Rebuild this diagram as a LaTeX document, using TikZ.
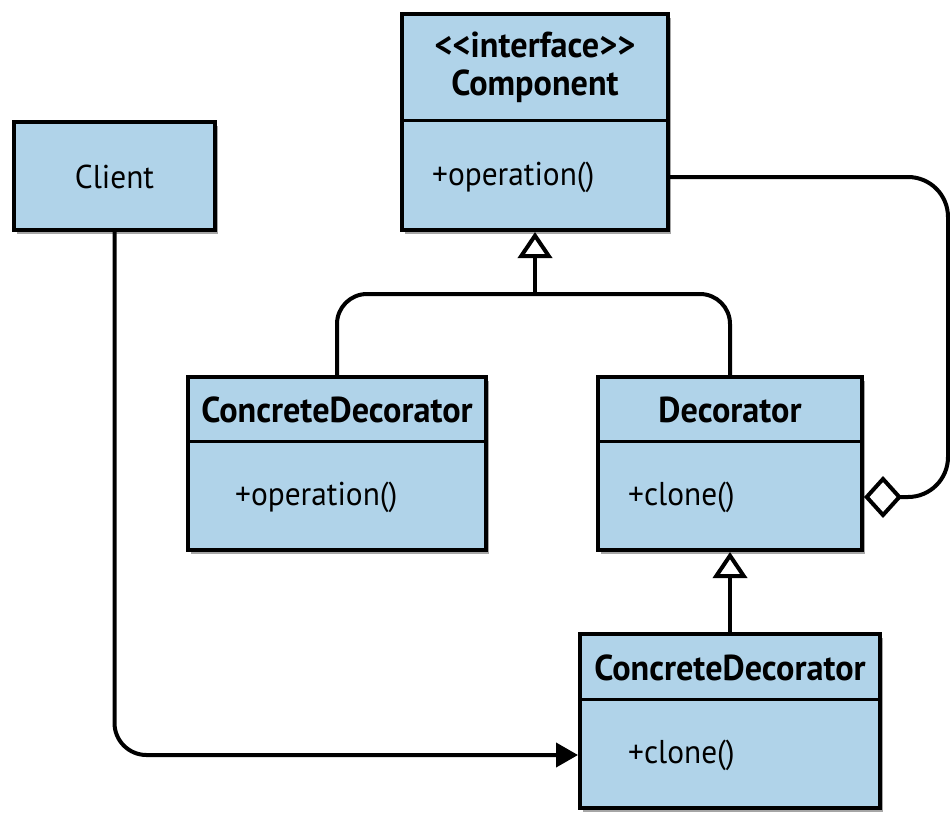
\documentclass[tikz,border=0pt]{standalone}
\usepackage{fontspec}
\setmainfont{PT Sans}[FakeStretch=0.95]
\usetikzlibrary{arrows.meta,shadows,calc}
\definecolor{boxblue}{RGB}{176,211,233}
\begin{document}
\begin{tikzpicture}[x=1pt,y=-1pt,
  box/.style={draw=black, line width=4pt, fill=boxblue, inner sep=0pt,
    drop shadow={shadow xshift=3pt, shadow yshift=-4pt, fill=black, opacity=0.35}},
  txt/.style={inner sep=0pt, font=\fontsize{33}{38}\selectfont},
  ttl/.style={inner sep=0pt, font=\fontsize{36}{38}\selectfont\bfseries, align=center},
  mem/.style={txt, anchor=west},
  conn/.style={line width=4pt, draw=black},
  inh/.style={conn, -{Triangle[open, length=26pt, width=34pt, line width=4pt]}},
  agg/.style={conn, -{Diamond[open, length=38pt, width=42pt, line width=4pt]}},
  assoc/.style={conn, -{Triangle[length=22pt, width=24pt]}},
  divider/.style={line width=3pt}
]
\useasboundingbox (0,0) rectangle (950,836);

% boxes
\node[box, minimum width=266pt, minimum height=216pt] (comp) at (535,122) {};
\node[box, minimum width=201pt, minimum height=108pt] (client) at (114.5,176) {};
\node[box, minimum width=298pt, minimum height=173pt] (cd1) at (337,463.5) {};
\node[box, minimum width=264pt, minimum height=173pt] (dec) at (730,463.5) {};
\node[box, minimum width=300pt, minimum height=174pt] (cd2) at (730,721) {};

% dividers
\draw[divider] ($(comp.north west)+(0,108)$) -- ($(comp.north east)+(0,108)$);
\draw[divider] ($(cd1.north west)+(0,66)$) -- ($(cd1.north east)+(0,66)$);
\draw[divider] ($(dec.north west)+(0,66)$) -- ($(dec.north east)+(0,66)$);
\draw[divider] ($(cd2.north west)+(0,67)$) -- ($(cd2.north east)+(0,67)$);

% texts
\node[ttl] (compt) at (535,67) {{<}{<}interface{>}{>}\\Component};
\node[mem] (compm) at (432,177) {+operation()};
\node[txt] (clientt) at (114.5,177) {Client};
\node[ttl] (cd1t) at (337,410) {ConcreteDecorator};
\node[mem] (cd1m) at (235,497) {+operation()};
\node[ttl] (dect) at (730,410) {Decorator};
\node[mem] (decm) at (628,497) {+clone()};
\node[ttl] (cd2t) at (730,668) {ConcreteDecorator};
\node[mem] (cd2m) at (628,755) {+clone()};

% connectors
\coordinate (j) at (535,294);
\draw[conn, rounded corners=30pt] (cd1.north) |- (j) -| (dec.north);
\draw[inh] (j) -- (comp.south);
\draw[inh] (cd2.north) -- (dec.south);
\coordinate (aggc) at (948,336);
\draw[agg, rounded corners=40pt] (compm -| comp.east) -| (aggc) |- (decm -| dec.east);
\draw[assoc, rounded corners=32pt] (client.south) |- (cd2m -| cd2.west);
\end{tikzpicture}
\end{document}
